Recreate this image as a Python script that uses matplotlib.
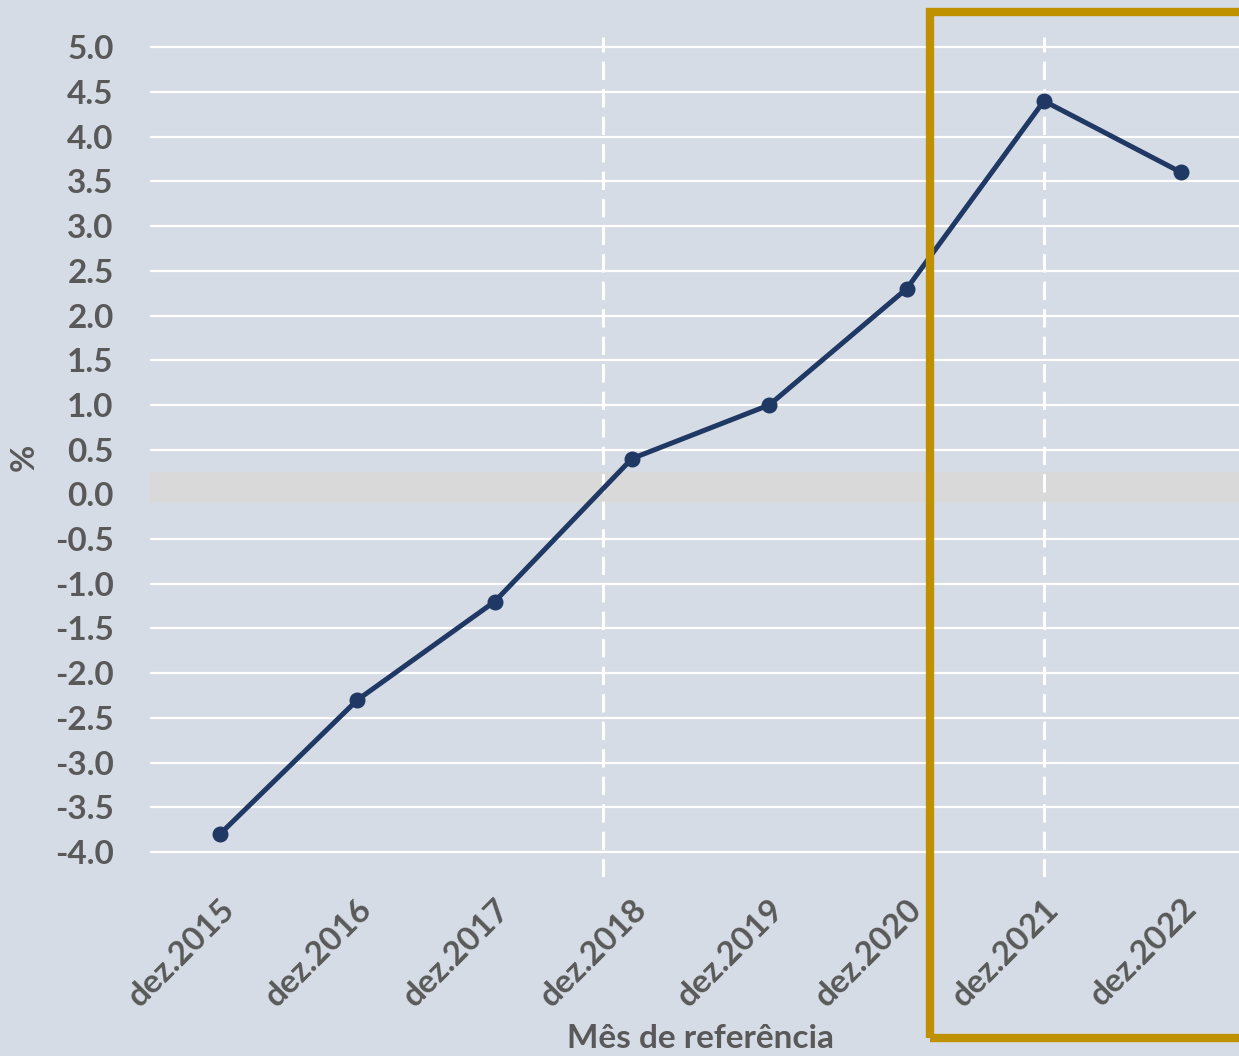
import matplotlib.pyplot as plt
from matplotlib.patches import Rectangle

# data
months = ["dez.2015", "dez.2016", "dez.2017", "dez.2018",
          "dez.2019", "dez.2020", "dez.2021", "dez.2022"]
values = [-3.8, -2.3, -1.2, 0.4, 1.0, 2.3, 4.4, 3.6]
y_ticks = [-4.0, -3.5, -3.0, -2.5, -2.0, -1.5, -1.0, -0.5,
           0.0, 0.5, 1.0, 1.5, 2.0, 2.5, 3.0, 3.5, 4.0, 4.5, 5.0]
marker_lines = [2.79, 6.0]

BG = "#D6DCE5"
NAVY = "#1F3864"
GOLD = "#BF9000"
TEXT = "#595959"

plt.rcParams["font.family"] = ["Lato", "DejaVu Sans"]

fig = plt.figure(figsize=(12.39, 10.56), dpi=100, facecolor=BG)
ax = fig.add_axes([0.121, 0.1695, 0.879, 0.795], facecolor=BG)

x = list(range(len(months)))

for v in y_ticks:
    if v != 0:
        ax.axhline(v, color="white", lw=1.6, zorder=1)
ax.axhspan(-0.1, 0.25, color="#D9D9D9", lw=0, zorder=1.5)

for xv in marker_lines:
    ax.axvline(xv, color="white", lw=2.2, ls=(0, (6, 3)), zorder=2)

ax.plot(x, values, color=NAVY, lw=3.6, marker="o", markersize=10.5,
        zorder=3)

ax.set_xlim(-0.51, 7.42)
ax.set_ylim(-4.28, 5.11)
ax.set_yticks(y_ticks)
ax.set_yticklabels([f"{v:.1f}" for v in y_ticks])
ax.set_xticks(x)
ax.set_xticklabels(months, rotation=45, ha="right", rotation_mode="anchor")

ax.tick_params(length=0, colors=TEXT, labelsize=24)
ax.tick_params(axis="y", pad=26)
ax.tick_params(axis="x", pad=12)
for lab in ax.get_xticklabels() + ax.get_yticklabels():
    lab.set_fontweight("bold")

for s in ax.spines.values():
    s.set_visible(False)

ax.set_ylabel("%", fontsize=24, fontweight="bold", color=TEXT, labelpad=12)
fig.text(0.565, 0.017, "Mês de referência", fontsize=24, fontweight="bold",
         color=TEXT, ha="center", va="center")

fig.patches.append(Rectangle((930 / 1239, 18 / 1056), 0.4, 1026 / 1056,
                             transform=fig.transFigure, fill=False,
                             edgecolor=GOLD, lw=6, zorder=10))

fig.savefig("out.png", dpi=100, facecolor=BG)
